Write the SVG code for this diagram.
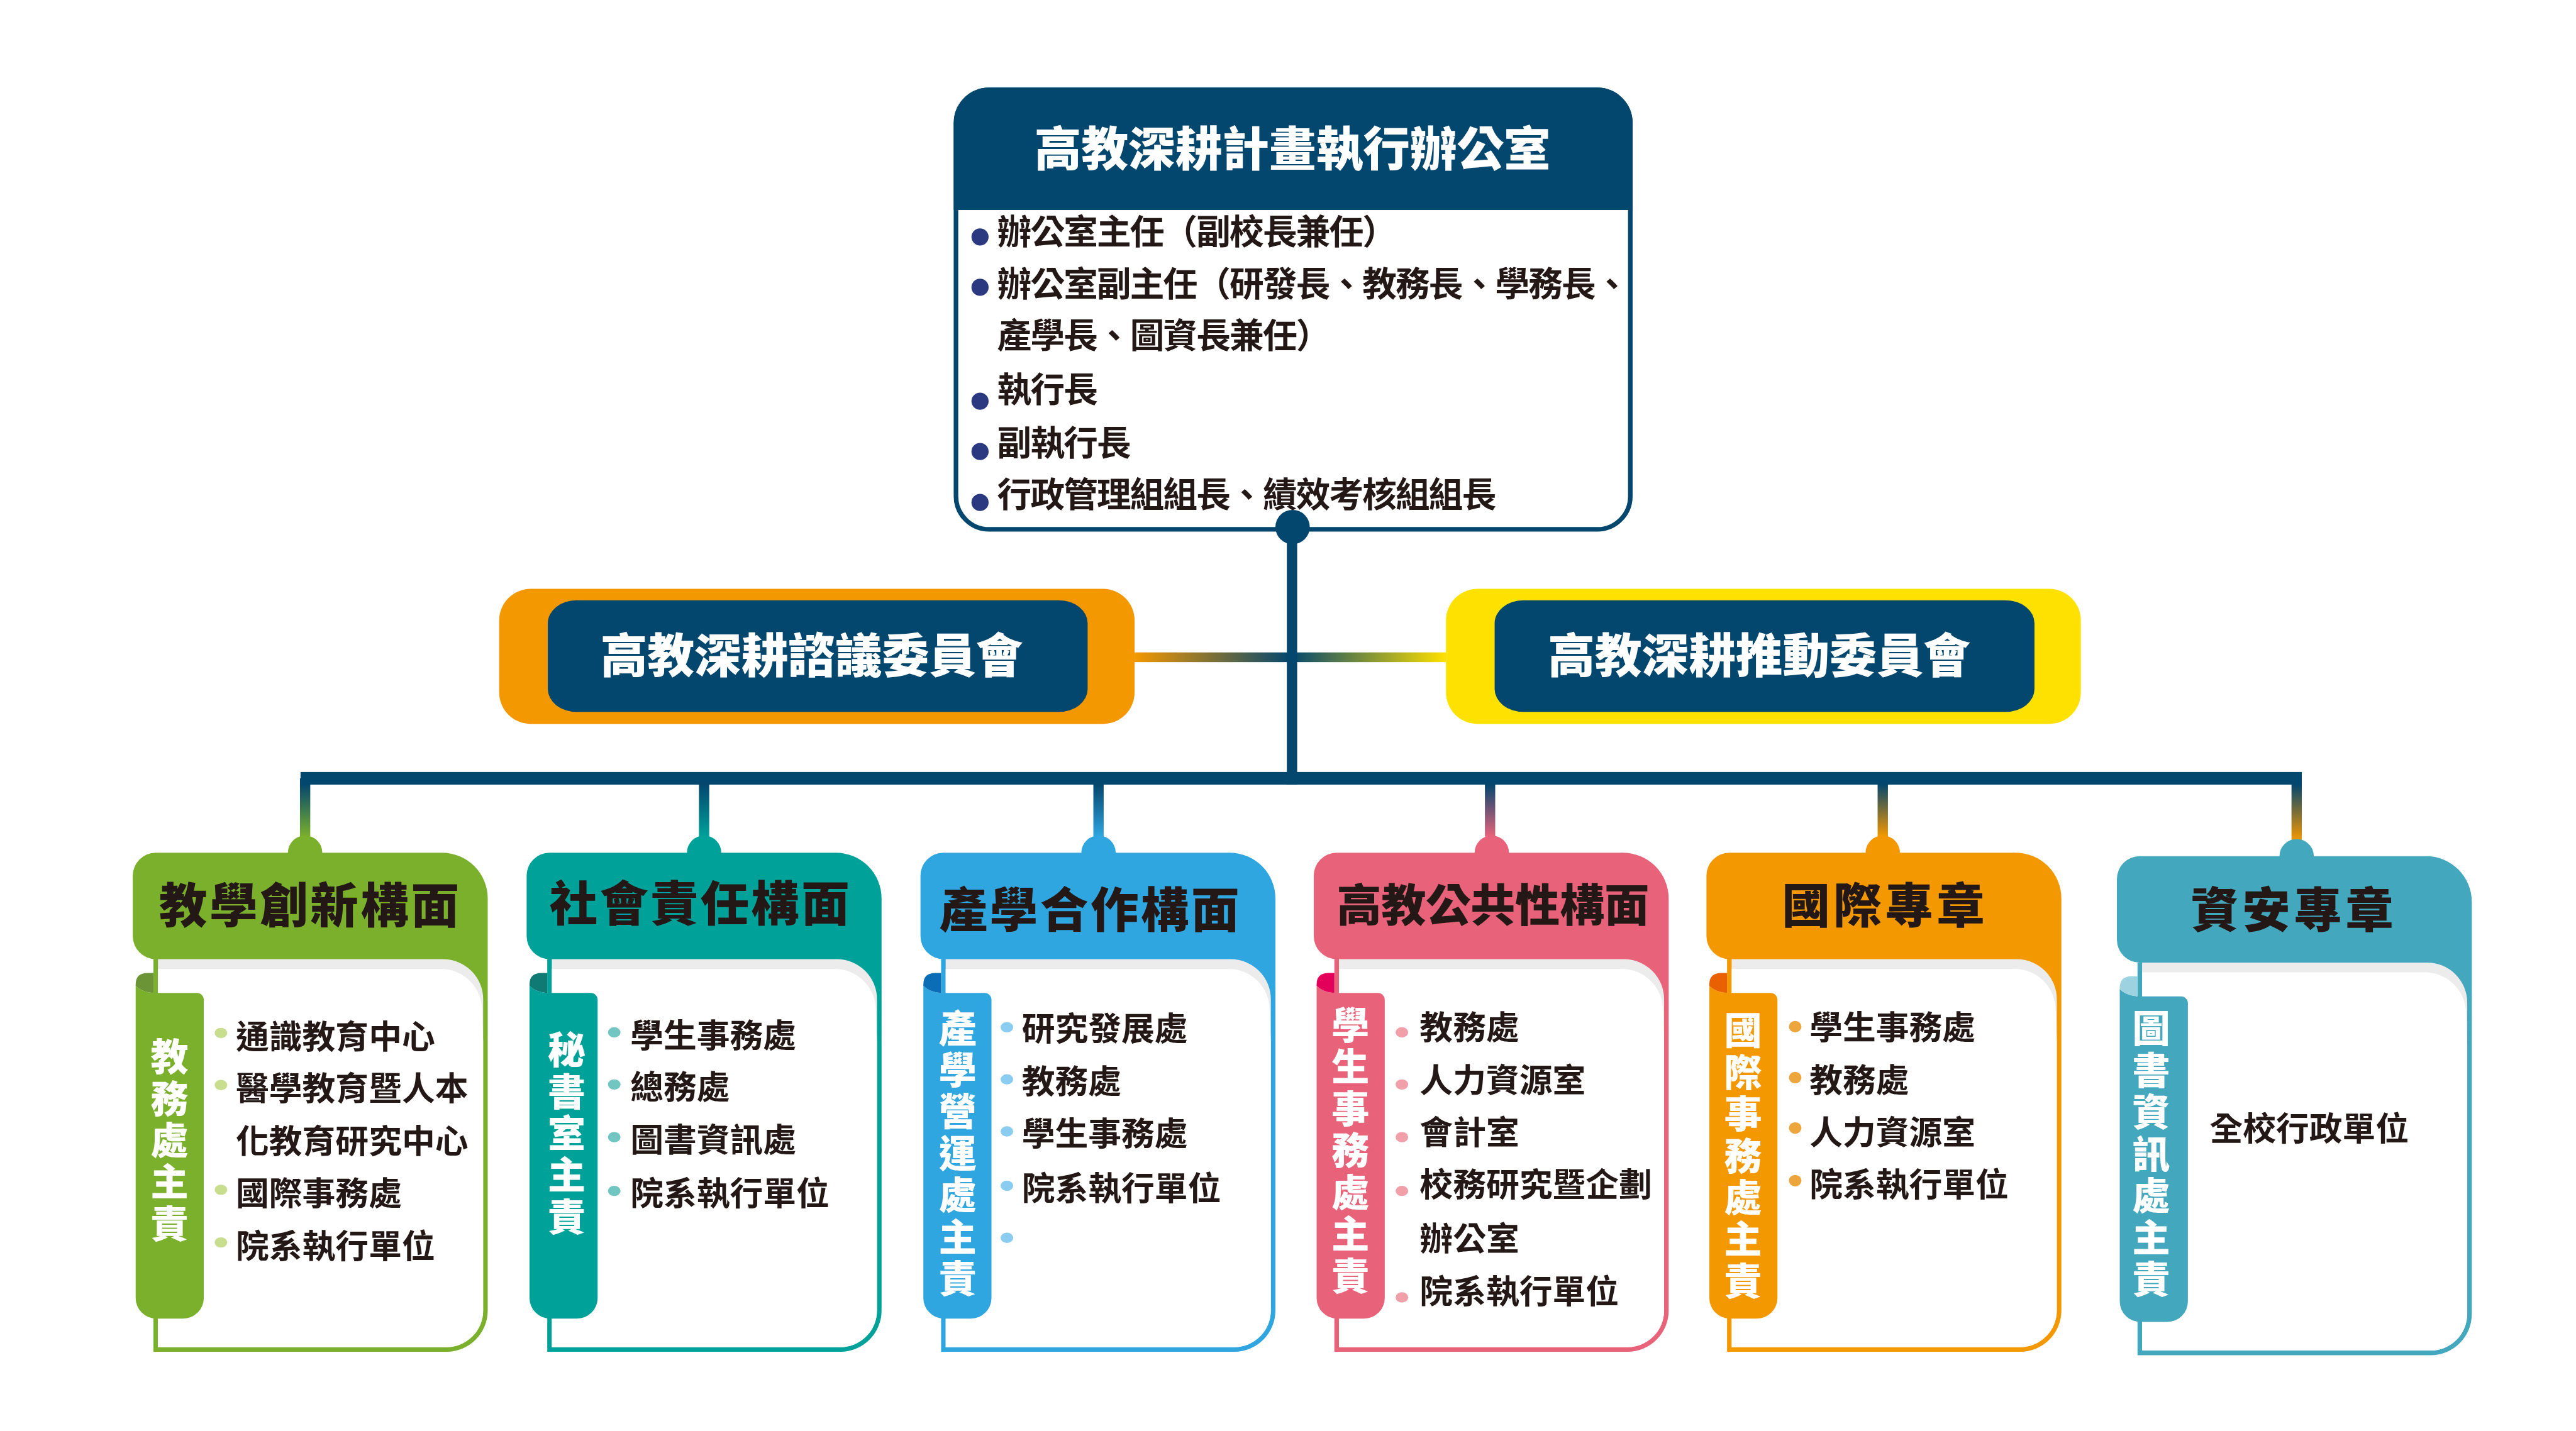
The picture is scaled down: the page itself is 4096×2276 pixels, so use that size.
<svg xmlns="http://www.w3.org/2000/svg" xmlns:xlink="http://www.w3.org/1999/xlink" width="4096" height="2276" viewBox="0 0 4096 2276">
<style>
.ttl{font-family:'Noto Sans CJK TC','Noto Sans CJK SC',sans-serif;font-weight:900;fill:#231815;text-anchor:middle;}
.item{font-family:'Noto Sans CJK TC','Noto Sans CJK SC',sans-serif;font-weight:700;font-size:58px;fill:#231815;}
.top{font-family:'Noto Sans CJK TC','Noto Sans CJK SC',sans-serif;font-weight:700;font-size:60px;letter-spacing:-2px;fill:#231815;}
.tab{font-family:'Noto Sans CJK TC','Noto Sans CJK SC',sans-serif;font-weight:900;font-size:66px;fill:#fff;writing-mode:vertical-rl;letter-spacing:7px;}
.wt{font-family:'Noto Sans CJK TC','Noto Sans CJK SC',sans-serif;font-weight:900;fill:#fff;text-anchor:middle;}
</style>
<defs>
<path id="outer" d="M40,0 H540 A80,80 0 0 1 620,80 V800 A72,72 0 0 1 548,872 H36 V186 H40 A40,40 0 0 1 0,146 V40 A40,40 0 0 1 40,0 Z"/>
<path id="gray" d="M44,186 H542 A70,70 0 0 1 612,256 V800 A64,64 0 0 1 548,864 H44 Z"/>
<path id="white" d="M44,203 H538 A72,72 0 0 1 610,275 L612,330 V800 A64,64 0 0 1 548,864 H44 Z"/>
<path id="tabm" d="M5,232 Q14,243 36,245 H112 A12,12 0 0 1 124,257 V778 A36,36 0 0 1 88,814 H41 A36,36 0 0 1 5,778 Z"/>
<path id="curl" d="M5,232 Q14,243 36,245 V210 H26 Q5,210 5,230 Z"/>
<linearGradient id="band" gradientUnits="userSpaceOnUse" x1="1982" y1="0" x2="2526" y2="0">
<stop offset="0" stop-color="#f39800"/><stop offset="0.5" stop-color="#03466e"/><stop offset="1" stop-color="#ffe100"/>
</linearGradient>
<linearGradient id="d1" x1="0" y1="0" x2="0" y2="1"><stop offset="0.1" stop-color="#03466e"/><stop offset="1" stop-color="#7ab02c"/></linearGradient>
<linearGradient id="d2" x1="0" y1="0" x2="0" y2="1"><stop offset="0.1" stop-color="#03466e"/><stop offset="1" stop-color="#00a199"/></linearGradient>
<linearGradient id="d3" x1="0" y1="0" x2="0" y2="1"><stop offset="0.1" stop-color="#03466e"/><stop offset="1" stop-color="#2fa6df"/></linearGradient>
<linearGradient id="d4" x1="0" y1="0" x2="0" y2="1"><stop offset="0.1" stop-color="#03466e"/><stop offset="1" stop-color="#e8637a"/></linearGradient>
<linearGradient id="d5" x1="0" y1="0" x2="0" y2="1"><stop offset="0.1" stop-color="#03466e"/><stop offset="1" stop-color="#f39800"/></linearGradient>
<linearGradient id="d6" x1="0" y1="0" x2="0" y2="1"><stop offset="0.1" stop-color="#03466e"/><stop offset="1" stop-color="#f39800"/></linearGradient>
</defs>
<rect width="4096" height="2276" fill="#fff"/>
<g transform="scale(0.910222)">

<g id="office">
<rect x="1670" y="157" width="1178" height="768" rx="58" fill="#fff" stroke="#03466e" stroke-width="8"/>
<path d="M1670,363 V215 A58,58 0 0 1 1728,157 H2790 A58,58 0 0 1 2848,215 V363 Z" fill="#03466e" stroke="#03466e" stroke-width="8"/>
<text class="wt" x="2258" y="290" font-size="82">高教深耕計畫執行辦公室</text>
<g fill="#2b3a80">
<circle cx="1712" cy="414" r="15"/><circle cx="1712" cy="502" r="15"/><circle cx="1712" cy="701" r="15"/><circle cx="1712" cy="789" r="15"/><circle cx="1712" cy="878" r="15"/>
</g>
<text class="top" x="1742" y="426">辦公室主任（副校長兼任）</text>
<text class="top" x="1742" y="518">辦公室副主任（研發長、教務長、學務長、</text>
<text class="top" x="1742" y="608">產學長、圖資長兼任）</text>
<text class="top" x="1742" y="702">執行長</text>
<text class="top" x="1742" y="795">副執行長</text>
<text class="top" x="1742" y="886">行政管理組組長、績效考核組組長</text>
</g>

<g id="advisory">
<rect x="872" y="1029" width="1110" height="236" rx="55" fill="#f39800"/>
<rect x="957" y="1049" width="943" height="195" rx="50" ry="40" fill="#03466e"/>
<text class="wt" x="1418" y="1176" font-size="82">高教深耕諮議委員會</text>
</g>

<g id="promotion">
<rect x="2526" y="1029" width="1109" height="236" rx="55" fill="#ffe100"/>
<rect x="2611" y="1049" width="943" height="195" rx="50" ry="40" fill="#03466e"/>
<text class="wt" x="3073" y="1176" font-size="82">高教深耕推動委員會</text>
</g>

<g id="connectors">
<rect x="1982" y="1140" width="544" height="17" fill="url(#band)"/>
<rect x="2248" y="921" width="18" height="450" fill="#03466e"/>
<circle cx="2258" cy="921" r="30" fill="#03466e"/>
<rect x="525" y="1349" width="3496" height="22" fill="#03466e"/>
<rect x="524" y="1360" width="18" height="102" fill="url(#d1)"/>
<rect x="1221" y="1360" width="18" height="102" fill="url(#d2)"/>
<rect x="1910" y="1360" width="18" height="102" fill="url(#d3)"/>
<rect x="2594" y="1360" width="18" height="102" fill="url(#d4)"/>
<rect x="3280" y="1360" width="18" height="102" fill="url(#d5)"/>
<rect x="4003" y="1360" width="18" height="108" fill="url(#d6)"/>
</g>

<g id="teaching">
<g transform="translate(232,1490)">
<circle cx="301" cy="0" r="30" fill="#7ab02c"/>
<use href="#outer" fill="#7ab02c"/><use href="#gray" fill="#ececec"/><use href="#white" fill="#fff"/>
<use href="#tabm" fill="#7ab02c"/><use href="#curl" fill="#6b9436"/>
</g>
<text class="ttl" x="542" y="1613" font-size="84" letter-spacing="4">教學創新構面</text>
<text class="tab" x="296" y="1813">教務處主責</text>
<g fill="#c9dd8e"><ellipse cx="386" cy="1805" rx="11" ry="9"/><ellipse cx="386" cy="1896" rx="11" ry="9"/><ellipse cx="386" cy="2079" rx="11" ry="9"/><ellipse cx="386" cy="2171" rx="11" ry="9"/></g>
<text class="item" x="412" y="1832">通識教育中心</text>
<text class="item" x="412" y="1923">醫學教育暨人本</text>
<text class="item" x="412" y="2015">化教育研究中心</text>
<text class="item" x="412" y="2106">國際事務處</text>
<text class="item" x="412" y="2198">院系執行單位</text>
</g>

<g id="social">
<g transform="translate(920,1490)">
<circle cx="310" cy="0" r="30" fill="#00a199"/>
<use href="#outer" fill="#00a199"/><use href="#gray" fill="#ececec"/><use href="#white" fill="#fff"/>
<use href="#tabm" fill="#00a199"/><use href="#curl" fill="#0e7a73"/>
</g>
<text class="ttl" x="1224" y="1610" font-size="84" letter-spacing="4">社會責任構面</text>
<text class="tab" x="990" y="1801">秘書室主責</text>
<g fill="#72c6c2"><ellipse cx="1073" cy="1804" rx="11" ry="9"/><ellipse cx="1073" cy="1895" rx="11" ry="9"/><ellipse cx="1073" cy="1987" rx="11" ry="9"/><ellipse cx="1073" cy="2081" rx="11" ry="9"/></g>
<text class="item" x="1101" y="1830">學生事務處</text>
<text class="item" x="1101" y="1920">總務處</text>
<text class="item" x="1101" y="2013">圖書資訊處</text>
<text class="item" x="1101" y="2106">院系執行單位</text>
</g>

<g id="industry">
<g transform="translate(1608,1490)">
<circle cx="311" cy="0" r="30" fill="#2fa6df"/>
<use href="#outer" fill="#2fa6df"/><use href="#gray" fill="#ececec"/><use href="#white" fill="#fff"/>
<use href="#tabm" fill="#2fa6df"/><use href="#curl" fill="#0a6db5"/>
</g>
<text class="ttl" x="1905" y="1621" font-size="84" letter-spacing="4">產學合作構面</text>
<text class="tab" x="1673" y="1763">產學營運處主責</text>
<g fill="#8acdf0"><ellipse cx="1759" cy="1795" rx="11" ry="9"/><ellipse cx="1759" cy="1886" rx="11" ry="9"/><ellipse cx="1759" cy="1977" rx="11" ry="9"/><ellipse cx="1759" cy="2072" rx="11" ry="9"/><ellipse cx="1759" cy="2163" rx="11" ry="9"/></g>
<text class="item" x="1785" y="1818">研究發展處</text>
<text class="item" x="1785" y="1911">教務處</text>
<text class="item" x="1785" y="2002">學生事務處</text>
<text class="item" x="1785" y="2097">院系執行單位</text>
</g>

<g id="public">
<g transform="translate(2295,1490)">
<circle cx="311" cy="0" r="30" fill="#e8637a"/>
<use href="#outer" fill="#e8637a"/><use href="#gray" fill="#ececec"/><use href="#white" fill="#fff"/>
<use href="#tabm" fill="#e8637a"/><use href="#curl" fill="#e2005a"/>
</g>
<text class="ttl" x="2608" y="1610" font-size="78">高教公共性構面</text>
<text class="tab" x="2359" y="1758">學生事務處主責</text>
<g fill="#f1a0a9"><ellipse cx="2449" cy="1804" rx="11" ry="9"/><ellipse cx="2449" cy="1895" rx="11" ry="9"/><ellipse cx="2449" cy="1987" rx="11" ry="9"/><ellipse cx="2449" cy="2081" rx="11" ry="9"/><ellipse cx="2449" cy="2267" rx="11" ry="9"/></g>
<text class="item" x="2480" y="1816">教務處</text>
<text class="item" x="2480" y="1908">人力資源室</text>
<text class="item" x="2480" y="1999">會計室</text>
<text class="item" x="2480" y="2091">校務研究暨企劃</text>
<text class="item" x="2480" y="2185">辦公室</text>
<text class="item" x="2480" y="2277">院系執行單位</text>
</g>

<g id="international">
<g transform="translate(2981,1490)">
<circle cx="308" cy="0" r="30" fill="#f39800"/>
<use href="#outer" fill="#f39800"/><use href="#gray" fill="#ececec"/><use href="#white" fill="#fff"/>
<use href="#tabm" fill="#f39800"/><use href="#curl" fill="#e86000"/>
</g>
<text class="ttl" x="3293" y="1613" font-size="84" letter-spacing="6">國際專章</text>
<text class="tab" x="3045" y="1767">國際事務處主責</text>
<g fill="#eda53e"><ellipse cx="3136" cy="1794" rx="11" ry="10"/><ellipse cx="3136" cy="1883" rx="11" ry="10"/><ellipse cx="3136" cy="1971" rx="11" ry="10"/><ellipse cx="3136" cy="2063" rx="11" ry="10"/></g>
<text class="item" x="3161" y="1816">學生事務處</text>
<text class="item" x="3161" y="1908">教務處</text>
<text class="item" x="3161" y="1999">人力資源室</text>
<text class="item" x="3161" y="2091">院系執行單位</text>
</g>

<g id="security">
<g transform="translate(3698,1496)">
<circle cx="314" cy="0" r="30" fill="#43a7bd"/>
<use href="#outer" fill="#43a7bd"/><use href="#gray" fill="#ececec"/><use href="#white" fill="#fff"/>
<use href="#tabm" fill="#43a7bd"/><use href="#curl" fill="#9dd3e1"/>
</g>
<text class="ttl" x="4007" y="1621" font-size="84" letter-spacing="6">資安專章</text>
<text class="tab" x="3758" y="1764">圖書資訊處主責</text>
<text class="item" x="4034" y="1993" text-anchor="middle">全校行政單位</text>
</g>

</g>
</svg>
